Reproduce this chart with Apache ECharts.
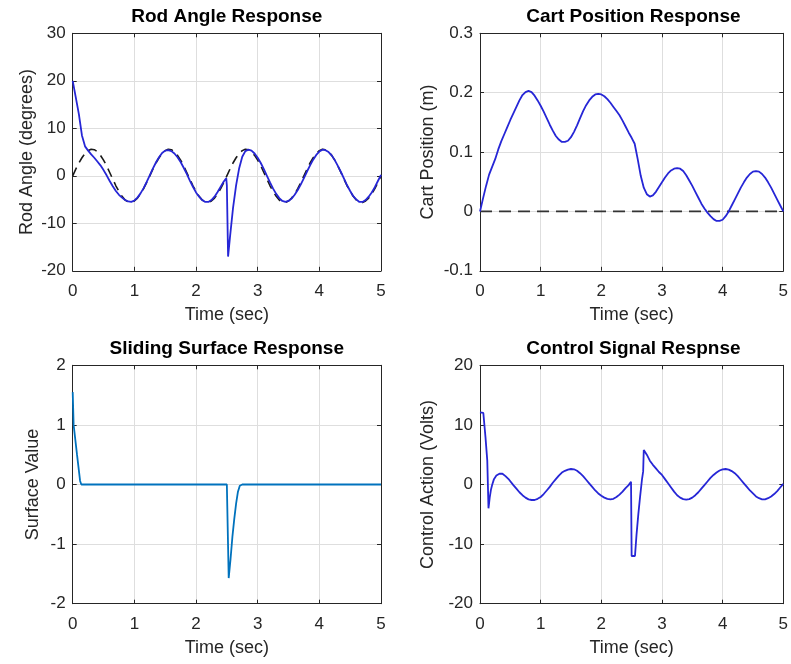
<!DOCTYPE html>
<html>
<head>
<meta charset="utf-8">
<script src="https://cdn.jsdelivr.net/npm/echarts@6/dist/echarts.min.js"></script>
<style>
html,body{margin:0;padding:0;background:#fff;}
#chart{width:791px;height:664px;}
</style>
</head>
<body>
<div id="chart"></div>
<script>
// ---------- DATA ----------
var xTicks = [0, 1, 2, 3, 4, 5];

var timeGrid = [
  0,0.05,0.1,0.15,0.2,0.25,0.3,0.35,0.4,0.45,
  0.5,0.55,0.6,0.65,0.7,0.75,0.8,0.85,0.9,0.95,
  1.0,1.05,1.1,1.15,1.2,1.25,1.3,1.35,1.4,1.45,
  1.5,1.55,1.6,1.65,1.7,1.75,1.8,1.85,1.9,1.95,
  2.0,2.05,2.1,2.15,2.2,2.25,2.3,2.35,2.4,2.45,
  2.5,2.55,2.6,2.65,2.7,2.75,2.8,2.85,2.9,2.95,
  3.0,3.05,3.1,3.15,3.2,3.25,3.3,3.35,3.4,3.45,
  3.5,3.55,3.6,3.65,3.7,3.75,3.8,3.85,3.9,3.95,
  4.0,4.05,4.1,4.15,4.2,4.25,4.3,4.35,4.4,4.45,
  4.5,4.55,4.6,4.65,4.7,4.75,4.8,4.85,4.9,4.95,
  5.0
];

// Rod angle reference (dashed)
var rodRefV = [
  0,1.4,2.7,3.8,4.7,5.3,5.6,5.5,5.1,4.3,
  3.3,2.1,0.7,-0.7,-2.1,-3.3,-4.3,-5.1,-5.5,-5.6,
  -5.3,-4.7,-3.8,-2.7,-1.4,0,1.4,2.7,3.8,4.7,
  5.3,5.6,5.5,5.1,4.3,3.3,2.1,0.7,-0.7,-2.1,
  -3.3,-4.3,-5.1,-5.5,-5.6,-5.3,-4.7,-3.8,-2.7,-1.4,
  0,1.4,2.7,3.8,4.7,5.3,5.6,5.5,5.1,4.3,
  3.3,2.1,0.7,-0.7,-2.1,-3.3,-4.3,-5.1,-5.5,-5.6,
  -5.3,-4.7,-3.8,-2.7,-1.4,0,1.4,2.7,3.8,4.7,
  5.3,5.6,5.5,5.1,4.3,3.3,2.1,0.7,-0.7,-2.1,
  -3.3,-4.3,-5.1,-5.5,-5.6,-5.3,-4.7,-3.8,-2.7,-1.4,
  0
];

// Rod angle response (blue)
var rodT = [
  0,0.05,0.1,0.15,0.2,0.25,0.3,0.35,0.4,0.45,
  0.5,0.55,0.6,0.65,0.7,0.75,0.8,0.85,0.9,0.95,
  1.0,1.05,1.1,1.15,1.2,1.25,1.3,1.35,1.4,1.45,
  1.5,1.55,1.6,1.65,1.7,1.75,1.8,1.85,1.9,1.95,
  2.0,2.05,2.1,2.15,2.2,2.25,2.3,2.35,2.4,2.45,
  2.49,2.5,2.52,2.55,2.6,2.65,2.7,2.75,2.8,2.85,
  2.9,2.95,3.0,3.05,3.1,3.15,3.2,3.25,3.3,3.35,
  3.4,3.45,3.5,3.55,3.6,3.65,3.7,3.75,3.8,3.85,
  3.9,3.95,4.0,4.05,4.1,4.15,4.2,4.25,4.3,4.35,
  4.4,4.45,4.5,4.55,4.6,4.65,4.7,4.75,4.8,4.85,
  4.9,4.95,5.0
];
var rodV = [
  20.0,16.5,13.0,8.5,6.2,5.3,4.5,3.8,3.0,2.2,
  1.2,0.1,-1.1,-2.2,-3.2,-4.0,-4.6,-5.1,-5.4,-5.5,
  -5.2,-4.6,-3.7,-2.6,-1.3,0.1,1.5,2.8,3.9,4.8,
  5.3,5.4,5.2,4.7,3.9,2.9,1.7,0.4,-1.0,-2.3,
  -3.5,-4.4,-5.1,-5.5,-5.5,-5.1,-4.4,-3.4,-2.3,-1.2,
  -0.5,-2.0,-17.0,-13.0,-6.8,-2.0,1.6,4.0,5.2,5.5,
  5.3,4.7,3.8,2.7,1.4,0.0,-1.4,-2.7,-3.8,-4.7,
  -5.3,-5.5,-5.3,-4.8,-4.0,-3.0,-1.8,-0.5,0.9,2.2,
  3.4,4.4,5.1,5.5,5.4,5.0,4.3,3.3,2.1,0.8,
  -0.6,-2.0,-3.2,-4.3,-5.0,-5.5,-5.5,-5.1,-4.4,-3.5,
  -2.4,-1.1,0.2
];

// Cart position (blue), sampled on timeGrid
var cartV = [
  0,0.022,0.043,0.062,0.075,0.088,0.104,0.118,0.130,0.142,
  0.154,0.165,0.176,0.187,0.196,0.201,0.203,0.201,0.195,0.187,
  0.178,0.168,0.157,0.146,0.136,0.127,0.121,0.117,0.117,0.119,
  0.125,0.134,0.145,0.157,0.169,0.179,0.187,0.193,0.197,0.198,
  0.197,0.194,0.189,0.183,0.176,0.169,0.162,0.153,0.143,0.133,
  0.124,0.114,0.088,0.060,0.040,0.029,0.025,0.027,0.033,0.041,
  0.049,0.057,0.064,0.069,0.072,0.073,0.072,0.068,0.061,0.052,
  0.043,0.033,0.023,0.013,0.005,-0.002,-0.008,-0.013,-0.016,-0.016,
  -0.014,-0.008,0.000,0.010,0.020,0.030,0.040,0.049,0.057,0.063,
  0.067,0.068,0.067,0.063,0.057,0.049,0.040,0.030,0.020,0.010,
  0.000
];
var cartRefT = [0, 5];
var cartRefV = [0, 0];

// Sliding surface
var surfT = [0,0.015,0.07,0.12,0.14,0.5,1,1.5,2,2.5,2.53,2.56,2.59,2.62,2.65,2.68,2.71,2.75,3,3.5,4,4.5,5];
var surfV = [1.55,1.0,0.5,0.06,0,0,0,0,0,0,-1.57,-1.25,-0.88,-0.58,-0.32,-0.12,-0.02,0,0,0,0,0,0];

// Control signal
var ctrlT = [
  0,0.055,0.09,0.12,0.14,0.16,0.18,0.2,0.23,0.27,
  0.32,0.37,0.42,0.48,0.55,0.6,0.65,0.7,0.75,0.8,
  0.85,0.9,0.95,1.0,1.05,1.1,1.15,1.2,1.25,1.3,
  1.35,1.4,1.45,1.5,1.55,1.6,1.65,1.7,1.75,1.8,
  1.85,1.9,1.95,2.0,2.05,2.1,2.15,2.2,2.25,2.3,
  2.35,2.4,2.45,2.49,2.5,2.555,2.58,2.61,2.64,2.67,
  2.69,2.7,2.715,2.75,2.8,2.85,2.9,2.95,3.0,3.05,
  3.1,3.15,3.2,3.25,3.3,3.35,3.4,3.45,3.5,3.55,
  3.6,3.65,3.7,3.75,3.8,3.85,3.9,3.95,4.0,4.05,
  4.1,4.15,4.2,4.25,4.3,4.35,4.4,4.45,4.5,4.55,
  4.6,4.65,4.7,4.75,4.8,4.85,4.9,4.95,5.0
];
var ctrlV = [
  12.1,12.0,8.0,4.0,-4.0,-2.2,-0.9,-0.1,0.9,1.5,
  1.8,1.8,1.4,0.8,-0.1,-0.7,-1.3,-1.8,-2.2,-2.5,
  -2.6,-2.6,-2.4,-2.1,-1.6,-1.0,-0.4,0.3,0.9,1.5,
  2.0,2.3,2.5,2.6,2.55,2.3,1.9,1.4,0.8,0.2,
  -0.4,-1.0,-1.5,-1.9,-2.2,-2.4,-2.5,-2.4,-2.1,-1.7,
  -1.2,-0.6,-0.1,0.45,-12.0,-12.0,-8.5,-5.0,-2.0,0.8,
  2.2,5.8,6.0,5.0,4.0,3.3,2.7,2.1,1.6,0.9,
  0.2,-0.5,-1.2,-1.8,-2.2,-2.45,-2.55,-2.45,-2.2,-1.8,
  -1.3,-0.7,-0.1,0.5,1.1,1.6,2.0,2.35,2.55,2.6,
  2.5,2.25,1.9,1.4,0.8,0.2,-0.4,-1.0,-1.5,-2.0,
  -2.3,-2.5,-2.5,-2.3,-2.0,-1.6,-1.1,-0.5,0.1
];

var titles = ['Rod Angle Response', 'Cart Position Response', 'Sliding Surface Response', 'Control Signal Respnse'];
var yNames = ['Rod Angle (degrees)', 'Cart Position (m)', 'Surface Value', 'Control Action (Volts)'];
var xName = 'Time (sec)';
var yRanges = [[-20, 30, 10], [-0.1, 0.3, 0.1], [-2, 2, 1], [-20, 20, 10]];

// ---------- LAYOUT / STYLE ----------
var FONT = 'Liberation Sans, Arial, sans-serif';
var AX = '#262626';
var GRIDC = '#dedede';
var grids = [
  {left: 72.7, top: 33.3, width: 308.3, height: 237.5},
  {left: 480, top: 33.3, width: 306.7, height: 237.5},
  {left: 72.7, top: 365.3, width: 308.3, height: 238.4},
  {left: 480, top: 365.3, width: 306.7, height: 238.4}
];
var yNameGaps = [37, 43, 31, 43];
var titlePos = [[226.8, 7], [633.4, 7], [226.8, 339], [633.4, 339]];

function pairs(t, v) { return t.map(function (x, i) { return [x, v[i]]; }); }

var xAxes = [], yAxes = [];
for (var i = 0; i < 4; i++) {
  xAxes.push({
    type: 'value', gridIndex: i, min: 0, max: 5, interval: 1, position: 'bottom',
    name: xName, nameLocation: 'middle', nameGap: 35,
    nameTextStyle: {fontSize: 18, color: AX, fontFamily: FONT},
    axisLine: {show: true, onZero: false, lineStyle: {color: AX, width: 1}},
    axisTick: {show: true, inside: true, length: 4, lineStyle: {color: AX}},
    axisLabel: {fontSize: 17, color: AX, fontFamily: FONT, margin: 12},
    splitLine: {show: true, lineStyle: {color: GRIDC, width: 1}}
  });
  yAxes.push({
    type: 'value', gridIndex: i, min: yRanges[i][0], max: yRanges[i][1], interval: yRanges[i][2], position: 'left',
    name: yNames[i], nameLocation: 'middle', nameGap: yNameGaps[i],
    nameTextStyle: {fontSize: 18, color: AX, fontFamily: FONT},
    axisLine: {show: true, onZero: false, lineStyle: {color: AX, width: 1}},
    axisTick: {show: true, inside: true, length: 4, lineStyle: {color: AX}},
    axisLabel: {fontSize: 17, color: AX, fontFamily: FONT, margin: 7},
    splitLine: {show: true, lineStyle: {color: GRIDC, width: 1}}
  });
}
for (var j = 0; j < 4; j++) {
  xAxes.push({
    type: 'value', gridIndex: j, min: 0, max: 5, interval: 1, position: 'top',
    axisLine: {show: true, onZero: false, lineStyle: {color: AX, width: 1}},
    axisTick: {show: true, inside: true, length: 4, lineStyle: {color: AX}},
    axisLabel: {show: false}, splitLine: {show: false}
  });
  yAxes.push({
    type: 'value', gridIndex: j, min: yRanges[j][0], max: yRanges[j][1], interval: yRanges[j][2], position: 'right',
    axisLine: {show: true, onZero: false, lineStyle: {color: AX, width: 1}},
    axisTick: {show: true, inside: true, length: 4, lineStyle: {color: AX}},
    axisLabel: {show: false}, splitLine: {show: false}
  });
}

var BLUE = '#2626d6';
function lineSeries(idx, data, color, width, dash, z) {
  return {
    type: 'line', xAxisIndex: idx, yAxisIndex: idx, data: data,
    showSymbol: false, symbol: 'none', animation: false, z: z || 3,
    lineStyle: {color: color, width: width, type: dash || 'solid'}
  };
}

var option = {
  backgroundColor: '#ffffff',
  animation: false,
  title: titles.map(function (t, k) {
    return {
      text: t, left: titlePos[k][0], top: titlePos[k][1], textAlign: 'center', padding: 0,
      textStyle: {fontSize: 19, fontWeight: 'bold', color: '#000', fontFamily: FONT}
    };
  }),
  grid: grids,
  xAxis: xAxes,
  yAxis: yAxes,
  series: [
    lineSeries(0, pairs(timeGrid, rodRefV), '#1a1a1a', 1.6, [9, 6], 3),
    lineSeries(0, pairs(rodT, rodV), BLUE, 1.8, 'solid', 4),
    lineSeries(1, pairs(cartRefT, cartRefV), '#333333', 1.8, [12, 7], 3),
    lineSeries(1, pairs(timeGrid, cartV), BLUE, 1.8, 'solid', 4),
    lineSeries(2, pairs(surfT, surfV), '#0072BD', 1.8, 'solid', 4),
    lineSeries(3, pairs(ctrlT, ctrlV), BLUE, 1.8, 'solid', 4)
  ]
};

var chart = echarts.init(document.getElementById('chart'), null, {renderer: 'canvas'});
chart.setOption(option);
</script>
</body>
</html>
